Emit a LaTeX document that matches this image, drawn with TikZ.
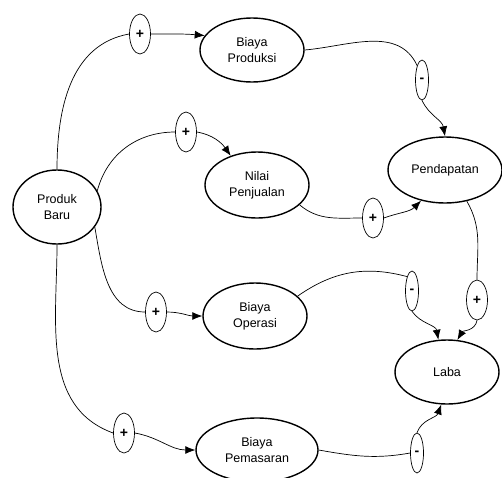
\documentclass[tikz,border=0pt]{standalone}
\usepackage{fontspec}
\setmainfont{Liberation Sans}
\usetikzlibrary{shapes.geometric,arrows.meta}

\tikzset{
  var/.style={ellipse,draw,line width=1.4pt,align=center,inner sep=0pt,
    font=\fontsize{12.5}{16}\selectfont},
  sign/.style={ellipse,draw,line width=0.7pt,inner sep=0pt,minimum width=21pt,
    minimum height=40pt,font=\fontsize{14}{14}\selectfont\bfseries},
  neg/.style={sign,minimum width=13pt},
  link/.style={line width=0.7pt},
  arr/.style={link,-{Latex[length=10pt,width=8pt]}}
}

\begin{document}
\begin{tikzpicture}[x=1pt,y=-1pt]
\useasboundingbox (0,0) rectangle (502,477);

\node[var,minimum width=88pt,minimum height=74pt] (PB) at (57,207) {Produk\\Baru};
\node[var,minimum width=104pt,minimum height=64pt] (BPr) at (252,50) {Biaya\\Produksi};
\node[var,minimum width=104pt,minimum height=66pt] (NP) at (257,185) {Nilai\\Penjualan};
\node[var,minimum width=114pt,minimum height=66pt] (Pd) at (445,170) {Pendapatan};
\node[var,minimum width=104pt,minimum height=66pt] (BO) at (255,316) {Biaya\\Operasi};
\node[var,minimum width=104pt,minimum height=64pt] (Lb) at (447,372) {Laba};
\node[var,minimum width=122pt,minimum height=64pt] (BPm) at (257,450) {Biaya\\Pemasaran};

\node[sign] (s1) at (140,34) {+};
\node[sign] (s2) at (186,132) {+};
\node[neg] (s3) at (422,80) {-};
\node[sign] (s4) at (373,218) {+};
\node[sign] (s5) at (156,312) {+};
\node[sign] (s6) at (124,433) {+};
\node[neg] (s7) at (412,291) {-};
\node[sign] (s8) at (477,300) {+};
\node[neg] (s9) at (417,453) {-};

\draw[link] (PB.north) to[out=90,in=190] (s1.west);
\draw[arr] (s1.east) to[out=0,in=175] (BPr.163);

\draw[link] (PB.22) to[out=75,in=180] (s2.west);
\draw[arr] (s2.east) to[out=-10,in=125] (NP.132);

\draw[link] (BPr.east) to[out=5,in=115] (s3.north west);
\draw[arr] (s3.south) to[out=-65,in=100] (Pd.north);

\draw[link] (NP.-25) to[out=-40,in=180] (s4.west);
\draw[arr] (s4.east) to[out=20,in=225] (Pd.-128);

\draw[link] (Pd.-55) to[out=-60,in=90] (s8.north);
\draw[arr] (s8.south) to[out=-100,in=60] (Lb.72);

\draw[link] (PB.-28) to[out=-80,in=180] (s5.west);
\draw[arr] (s5.east) to[out=0,in=180] (BO.west);

\draw[link] (PB.south) to[out=-90,in=160] (s6.west);
\draw[arr] (s6.east) to[out=-10,in=180] (BPm.west);

\draw[link] (BO.25) to[out=35,in=165] (s7.north west);
\draw[arr] (s7.south) to[out=-55,in=100] (Lb.105);

\draw[link] (BPm.east) to[out=-10,in=190] (s9.west);
\draw[arr] (s9.north) to[out=70,in=-110] (Lb.-100);
%\draw[arr] (BPm) -- (Lb);

\end{tikzpicture}
\end{document}
